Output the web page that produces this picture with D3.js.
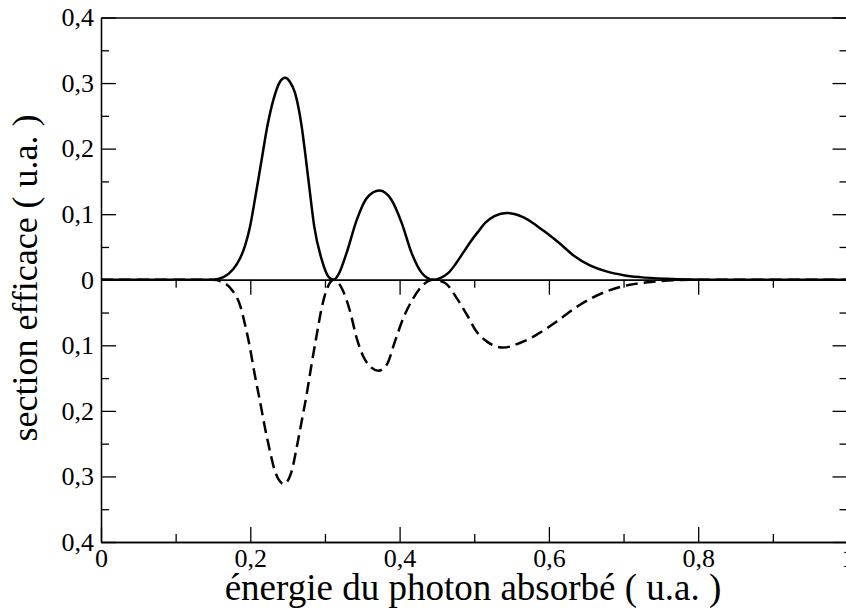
<!DOCTYPE html>
<html lang="fr">
<head>
<meta charset="utf-8">
<script src="https://d3js.org/d3.v7.min.js"></script>
<style>
  body { margin: 0; background: #fff; }
  svg text { font-family: "Liberation Serif", "Times New Roman", serif; fill: #000; }
</style>
</head>
<body>
<script>

// data
var solidX = [0, 0.14, 0.150, 0.164, 0.177, 0.186, 0.193, 0.1996, 0.2076, 0.2152, 0.2228, 0.2308, 0.2398, 0.2465,
              0.2530, 0.2599, 0.2688, 0.2746, 0.2800, 0.2857, 0.2956, 0.3045, 0.312, 0.319, 0.329, 0.3425, 0.356,
              0.373, 0.389, 0.403, 0.416, 0.430, 0.445, 0.455, 0.465, 0.475, 0.485, 0.495, 0.505, 0.515, 0.527,
              0.5435, 0.555, 0.566, 0.578, 0.590, 0.603, 0.615, 0.633, 0.655, 0.677, 0.700, 0.722, 0.758, 0.790,
              0.820, 1.0];
var solidY = [0, 0, 0, 0.004, 0.016, 0.032, 0.052, 0.081, 0.132, 0.183, 0.234, 0.274, 0.302, 0.308,
              0.302, 0.285, 0.234, 0.183, 0.132, 0.081, 0.031, 0.005, 0, 0.010, 0.041, 0.091, 0.1245,
              0.136, 0.122, 0.086, 0.041, 0.010, 0, 0.003, 0.010, 0.024, 0.041, 0.058, 0.073, 0.087, 0.097,
              0.102, 0.100, 0.095, 0.087, 0.077, 0.066, 0.055, 0.037, 0.022, 0.0127, 0.007, 0.004, 0.0015, 0.0004,
              0, 0];

var dashedX = [0, 0.15, 0.164, 0.177, 0.186, 0.193, 0.1996, 0.206, 0.213, 0.2197, 0.2264, 0.233, 0.245, 0.2554,
               0.262, 0.2688, 0.2755, 0.282, 0.289, 0.2956, 0.3023, 0.312, 0.3246, 0.3336, 0.3425, 0.3514, 0.3603,
               0.3715, 0.3827, 0.3938, 0.405, 0.4184, 0.4318, 0.445, 0.461, 0.4765, 0.490, 0.503, 0.5167, 0.539,
               0.561, 0.5837, 0.610, 0.6417, 0.677, 0.7086, 0.744, 0.775, 0.80, 1.0];
var dashedY = [0, 0, -0.004, -0.018, -0.038, -0.0686, -0.104, -0.145, -0.1855, -0.226, -0.2617, -0.292, -0.3115, -0.292,
               -0.2566, -0.216, -0.175, -0.1296, -0.0838, -0.043, -0.015, 0, -0.018, -0.048, -0.089, -0.117, -0.132,
               -0.1387, -0.1296, -0.094, -0.0584, -0.028, -0.0076, 0, -0.005, -0.028, -0.053, -0.079, -0.094, -0.1035,
               -0.0965, -0.0838, -0.064, -0.0381, -0.0178, -0.0076, -0.0026, -0.0005, 0, 0];

var xMajor = [0, 0.2, 0.4, 0.6, 0.8, 1];
var xMajorLabels = ["0", "0,2", "0,4", "0,6", "0,8", "1"];
var xMinor = [0.1, 0.3, 0.5, 0.7, 0.9];

var yMajor = [-0.4, -0.3, -0.2, -0.1, 0, 0.1, 0.2, 0.3, 0.4];
var yMajorLabels = ["0,4", "0,3", "0,2", "0,1", "0", "0,1", "0,2", "0,3", "0,4"];
var yMinor = [-0.35, -0.25, -0.15, -0.05, 0.05, 0.15, 0.25, 0.35];

var xTitle = "énergie du photon absorbé ( u.a. )";
var yTitle = "section efficace ( u.a. )";

// Width and height
var w = 846;
var h = 611;
var plotLeft = 101, plotRight = 847.5, plotTop = 17.5, plotBottom = 542;
var serif = '"Liberation Serif", "Times New Roman", serif';

var x = d3.scaleLinear().domain([0, 1]).range([plotLeft, plotRight]);
var y = d3.scaleLinear().domain([-0.4, 0.4]).range([plotBottom, plotTop]);

var svg = d3.select("body")
            .append("svg")
            .attr("width", w)
            .attr("height", h);

function styleAxis(g) {
    g.attr("font-family", null).attr("font-size", null);
    g.selectAll("path, line").attr("stroke", "#000").attr("stroke-width", 1.3);
    g.selectAll("text")
     .style("font-family", serif)
     .style("font-size", "26px")
     .attr("fill", "#000");
}

// left axis
svg.append("g")
   .attr("transform", "translate(" + plotLeft + ",0)")
   .call(d3.axisLeft(y).tickValues(yMajor).tickSize(-15).tickSizeOuter(0).tickPadding(7)
           .tickFormat(function(d, i) { return yMajorLabels[i]; }))
   .call(styleAxis);
svg.append("g")
   .attr("transform", "translate(" + plotLeft + ",0)")
   .call(d3.axisLeft(y).tickValues(yMinor).tickSize(-8).tickSizeOuter(0).tickFormat(""))
   .call(styleAxis);

// right axis
svg.append("g")
   .attr("transform", "translate(" + plotRight + ",0)")
   .call(d3.axisRight(y).tickValues(yMajor).tickSize(-15).tickSizeOuter(0).tickFormat(""))
   .call(styleAxis);
svg.append("g")
   .attr("transform", "translate(" + plotRight + ",0)")
   .call(d3.axisRight(y).tickValues(yMinor).tickSize(-8).tickSizeOuter(0).tickFormat(""))
   .call(styleAxis);

// bottom axis
svg.append("g")
   .attr("transform", "translate(0," + plotBottom + ")")
   .call(d3.axisBottom(x).tickValues(xMajor).tickSize(-15).tickSizeOuter(0).tickPadding(7)
           .tickFormat(function(d, i) { return xMajorLabels[i]; }))
   .call(styleAxis);
svg.append("g")
   .attr("transform", "translate(0," + plotBottom + ")")
   .call(d3.axisBottom(x).tickValues(xMinor).tickSize(-8).tickSizeOuter(0).tickFormat(""))
   .call(styleAxis);

// top edge
svg.append("g")
   .attr("transform", "translate(0," + plotTop + ")")
   .call(d3.axisTop(x).tickValues([]).tickSizeOuter(0))
   .call(styleAxis);

// zero line with ticks hanging below
svg.append("g")
   .attr("transform", "translate(0," + y(0) + ")")
   .call(d3.axisBottom(x).tickValues(xMajor.slice(1, 5)).tickSize(15).tickSizeOuter(0).tickFormat(""))
   .call(styleAxis);
svg.append("g")
   .attr("transform", "translate(0," + y(0) + ")")
   .call(d3.axisBottom(x).tickValues(xMinor).tickSize(8).tickSizeOuter(0).tickFormat(""))
   .call(styleAxis);

var line = d3.line()
             .x(function(d) { return x(d[0]); })
             .y(function(d) { return y(d[1]); })
             .curve(d3.curveMonotoneX);

svg.append("path")
   .datum(d3.zip(dashedX, dashedY))
   .attr("d", line)
   .attr("fill", "none")
   .attr("stroke", "#000")
   .attr("stroke-width", 2.5)
   .attr("stroke-dasharray", "12,6");

svg.append("path")
   .datum(d3.zip(solidX, solidY))
   .attr("d", line)
   .attr("fill", "none")
   .attr("stroke", "#000")
   .attr("stroke-width", 2.5);

// axis titles
svg.append("text")
   .attr("x", 473)
   .attr("y", 600)
   .attr("text-anchor", "middle")
   .attr("font-size", 37)
   .text(xTitle);

svg.append("text")
   .attr("transform", "translate(37,278) rotate(-90)")
   .attr("text-anchor", "middle")
   .attr("font-size", 36)
   .text(yTitle);

</script>
</body>
</html>
